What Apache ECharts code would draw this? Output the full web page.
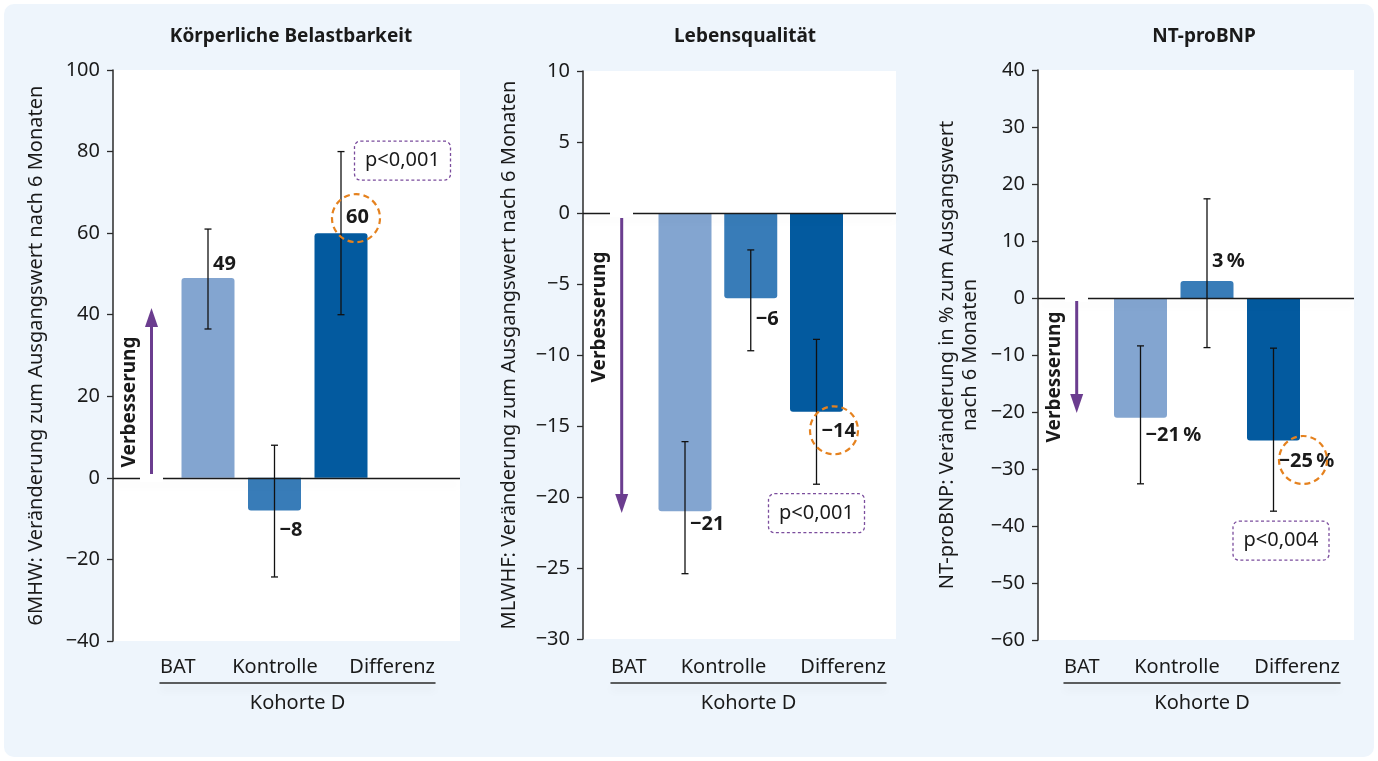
<!DOCTYPE html>
<html>
<head>
<meta charset="utf-8">
<script src="https://cdn.jsdelivr.net/npm/echarts@6/dist/echarts.min.js"></script>
<style>
  html, body { margin: 0; padding: 0; background: #ffffff; }
  #chart { width: 1378px; height: 761px; }
</style>
</head>
<body>
<div id="chart"></div>
<script>
// ---- data ----
const categories = ['BAT', 'Kontrolle', 'Differenz'];
const groupLabel = 'Kohorte D';
const panelTitles = ['Körperliche Belastbarkeit', 'Lebensqualität', 'NT-proBNP'];
const axisTitles = [
  '6MHW: Veränderung zum Ausgangswert nach 6 Monaten',
  'MLWHF: Veränderung zum Ausgangswert nach 6 Monaten',
  'NT-proBNP: Veränderung in % zum Ausgangswert\nnach 6 Monaten'
];
const hintText = 'Verbesserung';

// 6-minute walk distance (m)
const walkValues = [49, -8, 60];
const walkLow = [36.5, -24.3, 40];
const walkHigh = [61, 8, 80];
// MLWHF quality of life score
const qolValues = [-21, -6, -14];
const qolLow = [-25.4, -9.7, -19.1];
const qolHigh = [-16.1, -2.6, -8.9];
// NT-proBNP change (%)
const bnpValues = [-21, 3, -25];
const bnpLow = [-32.6, -8.7, -37.4];
const bnpHigh = [-8.4, 17.4, -8.8];

const walkTicks = { min: -40, max: 100, interval: 20 };
const qolTicks = { min: -30, max: 10, interval: 5 };
const bnpTicks = { min: -60, max: 40, interval: 10 };

const pLabels = ['p<0,001', 'p<0,001', 'p<0,004'];
const valueUnits = ['', '', '\u2009%'];

// ---- look & layout ----
const FONT = '"Noto Sans", "DejaVu Sans", sans-serif';
const TEXT = '#1a1a1a';
const AXIS = '#2b2b2b';
const barColors = ['#83a5d0', '#387cb8', '#035a9f'];
const ARROW = '#6b3d8f';
const RING = '#e5821f';
const BOXLINE = '#7b4d9d';

const panels = [
  { values: walkValues, low: walkLow, high: walkHigh, ticks: walkTicks },
  { values: qolValues, low: qolLow, high: qolHigh, ticks: qolTicks },
  { values: bnpValues, low: bnpLow, high: bnpHigh, ticks: bnpTicks }
];

const frames = [
  { left: 113, top: 70, width: 347, height: 571, x0: 208, step: 66.5, nameGap: 65, title: [291, 37],
    band: [160, 275], midPad: 45, labelGap: [3.5, 9.5, 5.5], ring: [15, -15], box: [61.5, 9],
    arrow: { x: 151.5, tail: 474, tip: 308 }, gap: [140, 471, 23, 11], hint: [130, 402] },
  { left: 583, top: 71, width: 313, height: 568, x0: 685, step: 65.75, nameGap: 62, title: [745, 37],
    band: [611, 275], midPad: 50, labelGap: [3.5, 11.5, 9.5], ring: [17.5, 18.5], box: [0, 29],
    arrow: { x: 621.7, tail: 218, tip: 513 }, gap: [610, 207, 23, 10], hint: [600, 317] },
  { left: 1038, top: 70, width: 316, height: 570, x0: 1140.5, step: 66.5, nameGap: 56, title: [1204, 37],
    band: [1064, 276], midPad: 50, labelGap: [7.5, 9.5, 10.5], ring: [29.5, 19.5], box: [7.5, 29.5],
    arrow: { x: 1076.7, tail: 301, tip: 413 }, gap: [1065, 293, 23, 9], hint: [1055, 377] }
];

const minus = s => String(s).replace('-', '\u2212');
const fmtValue = (v, unit) => (v < 0 ? '\u2212' + Math.abs(v) : String(v)) + unit;

const grid = [], xAxis = [], yAxis = [], series = [], graphic = [];

// panel background
graphic.push({ type: 'rect', z: -10, shape: { x: 4, y: 4, width: 1370, height: 753, r: 10 },
  style: { fill: '#eef5fc' }, silent: true });

// grids and axes come in pairs per panel: [plot, category strip]
panels.forEach((p, i) => {
  const f = frames[i];
  const plotIdx = 2 * i, stripIdx = 2 * i + 1;
  // plot area
  grid.push({ left: f.left, top: f.top, width: f.width, height: f.height, show: true,
    backgroundColor: '#ffffff', borderWidth: 0, containLabel: false, outerBoundsMode: 'none' });
  xAxis.push({ type: 'value', gridIndex: plotIdx, show: false,
    min: -(f.x0 - f.left) / f.step, max: (f.left + f.width - f.x0) / f.step });
  yAxis.push({ type: 'value', gridIndex: plotIdx, min: p.ticks.min, max: p.ticks.max, interval: p.ticks.interval,
    axisLine: { show: true, onZero: false, lineStyle: { color: AXIS, width: 1.5 } },
    axisTick: { show: true, length: 6, lineStyle: { color: AXIS, width: 1.3 } },
    splitLine: { show: false },
    axisLabel: { fontSize: 20, color: TEXT, fontFamily: FONT, margin: 13, formatter: v => minus(v) },
    name: axisTitles[i], nameLocation: 'middle', nameGap: f.nameGap,
    nameTextStyle: { fontSize: 20, color: TEXT, fontFamily: FONT, lineHeight: 23, align: 'center' } });

  // category strip below the plot
  grid.push({ left: f.band[0], top: 682, width: f.band[1], height: 1, show: false,
    containLabel: false, outerBoundsMode: 'none' });
  xAxis.push({ type: 'category', gridIndex: stripIdx, data: categories, boundaryGap: false, position: 'bottom',
    axisLine: { show: true, lineStyle: { color: AXIS, width: 1.5, shadowColor: 'rgba(0,0,0,0.10)', shadowBlur: 8, shadowOffsetY: 6 } },
    axisTick: { show: false },
    axisLabel: { inside: true, margin: 6, fontSize: 20, color: TEXT, fontFamily: FONT,
      alignMinLabel: 'left', alignMaxLabel: 'right', interval: 0,
      formatter: (v, idx) => (idx === 1 ? '{mid|' + v + '}' : v),
      rich: { mid: { fontSize: 20, color: TEXT, fontFamily: FONT, padding: [0, f.midPad, 0, 0] } } },
    name: groupLabel, nameLocation: 'middle', nameGap: 10,
    nameTextStyle: { fontSize: 20, color: TEXT, fontFamily: FONT, verticalAlign: 'top' } });
  yAxis.push({ type: 'value', gridIndex: stripIdx, show: false });
});

panels.forEach((p, i) => {
  const f = frames[i];
  const xi = i * 2, yi = i * 2;
  const unit = valueUnits[i];

  series.push({
    type: 'bar', xAxisIndex: xi, yAxisIndex: yi, barWidth: 53, z: 2, animation: false,
    data: p.values.map((v, k) => ({
      value: [k, v],
      itemStyle: { color: barColors[k], borderRadius: v >= 0 ? [3, 3, 0, 0] : [0, 0, 3, 3] },
      label: { position: v >= 0 ? 'top' : 'bottom', distance: f.labelGap[k] }
    })),
    label: { show: true, align: 'left', offset: [5, 0], fontSize: 20, fontWeight: 'bold',
      color: TEXT, fontFamily: FONT, formatter: d => fmtValue(d.value[1], unit) },
    emphasis: { disabled: true },
    markLine: { silent: true, symbol: ['none', 'none'], label: { show: false }, animation: false,
      lineStyle: { color: TEXT, width: 1.3, type: 'solid', shadowColor: 'rgba(0,0,0,0.08)', shadowBlur: 10, shadowOffsetY: 6 },
      data: [{ yAxis: 0 }] }
  });

  // error bars
  series.push({
    type: 'custom', xAxisIndex: xi, yAxisIndex: yi, z: 6, animation: false, silent: true,
    data: p.values.map((v, k) => [k, p.low[k], p.high[k]]),
    encode: { x: 0, y: [1, 2] },
    renderItem: (params, api) => {
      const lo = api.coord([api.value(0), api.value(1)]);
      const hi = api.coord([api.value(0), api.value(2)]);
      const c = 3.5;
      const style = { stroke: '#111111', lineWidth: 1.3 };
      return { type: 'group', children: [
        { type: 'line', shape: { x1: lo[0], y1: lo[1], x2: hi[0], y2: hi[1] }, style },
        { type: 'line', shape: { x1: lo[0] - c, y1: lo[1], x2: lo[0] + c, y2: lo[1] }, style },
        { type: 'line', shape: { x1: hi[0] - c, y1: hi[1], x2: hi[0] + c, y2: hi[1] }, style }
      ] };
    }
  });

  // highlight ring on the difference value and the p-value box
  const d = 2;
  const dv = p.values[d];
  const dEnd = dv >= 0 ? p.high[d] : p.low[d];
  series.push({
    type: 'custom', xAxisIndex: xi, yAxisIndex: yi, z: 8, animation: false, silent: true,
    data: [[d, dv, dEnd]],
    encode: { x: 0, y: [1, 2] },
    renderItem: (params, api) => {
      const barEnd = api.coord([api.value(0), api.value(1)]);
      const errEnd = api.coord([api.value(0), api.value(2)]);
      const cx = barEnd[0] + f.ring[0], cy = barEnd[1] + f.ring[1];
      const bx = errEnd[0] + f.box[0], by = errEnd[1] + f.box[1];
      const bw = 96, bh = 39;
      return { type: 'group', children: [
        { type: 'circle', shape: { cx, cy, r: 24 },
          style: { fill: null, stroke: RING, lineWidth: 2.2, lineDash: [6, 4] } },
        { type: 'rect', shape: { x: bx - bw / 2, y: by - bh / 2, width: bw, height: bh, r: 6 },
          style: { fill: '#ffffff', stroke: BOXLINE, lineWidth: 1.3, lineDash: [3, 2.5] } },
        { type: 'text', style: { text: pLabels[i], x: bx, y: by, align: 'center', verticalAlign: 'middle',
          fontSize: 20, fontFamily: FONT, fill: TEXT } }
      ] };
    }
  });

  // titles
  graphic.push({ type: 'text', z: 100, silent: true,
    style: { text: panelTitles[i], x: f.title[0], y: f.title[1], align: 'center', verticalAlign: 'middle',
      fontSize: 19, fontWeight: 'bold', fontFamily: FONT, fill: TEXT } });

  // "improvement" direction arrow with its white backing
  graphic.push({ type: 'rect', z: 100, silent: true,
    shape: { x: f.gap[0], y: f.gap[1], width: f.gap[2], height: f.gap[3] }, style: { fill: '#ffffff' } });
  const a = f.arrow;
  const dir = a.tip < a.tail ? -1 : 1;
  const headLen = 19, headHalf = 6.5;
  const base = a.tip - dir * headLen;
  graphic.push({ type: 'line', z: 101, silent: true,
    shape: { x1: a.x, y1: a.tail, x2: a.x, y2: base + dir * 1 }, style: { stroke: ARROW, lineWidth: 3 } });
  graphic.push({ type: 'polygon', z: 101, silent: true,
    shape: { points: [[a.x - headHalf, base], [a.x + headHalf, base], [a.x, a.tip]] }, style: { fill: ARROW } });
  graphic.push({ type: 'text', z: 101, silent: true, rotation: Math.PI / 2, x: f.hint[0], y: f.hint[1],
    style: { text: hintText, x: 0, y: 0, align: 'center', verticalAlign: 'middle',
      fontSize: 19, fontWeight: 'bold', fontFamily: FONT, fill: TEXT } });
});

const chart = echarts.init(document.getElementById('chart'), null, { renderer: 'canvas' });
chart.setOption({
  animation: false,
  backgroundColor: '#ffffff',
  textStyle: { fontFamily: FONT },
  grid, xAxis, yAxis, series, graphic
});
</script>
</body>
</html>
